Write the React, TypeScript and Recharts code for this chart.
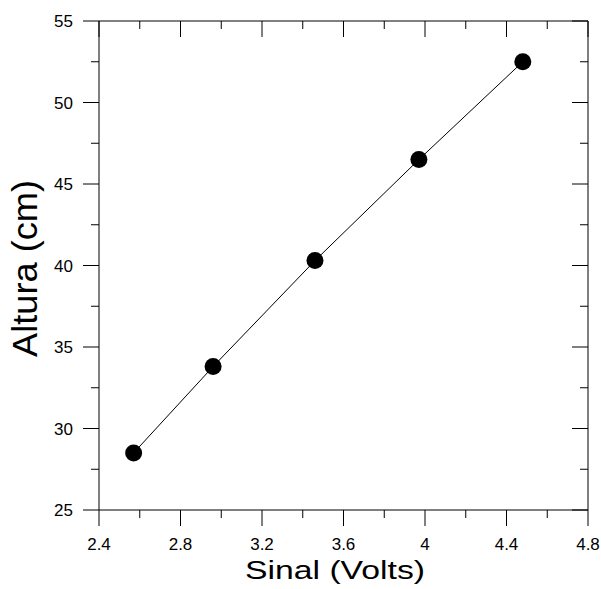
import { ScatterChart, Scatter, XAxis, YAxis } from 'recharts';

const FONT = '"Liberation Sans", Arial, sans-serif';

// signal (V) vs height (cm)
const SIGNAL = [2.57, 2.96, 3.46, 3.97, 4.48];
const HEIGHT = [28.5, 33.8, 40.3, 46.5, 52.5];

const X_MAJOR = [2.4, 2.8, 3.2, 3.6, 4.0, 4.4, 4.8];
const X_MINOR = [2.6, 3.0, 3.4, 3.8, 4.2, 4.6];
const Y_MAJOR = [25, 30, 35, 40, 45, 50, 55];
const Y_MINOR = [27.5, 32.5, 37.5, 42.5, 47.5, 52.5];

const X_TICKS = [...X_MAJOR, ...X_MINOR].sort((a, b) => a - b);
const Y_TICKS = [...Y_MAJOR, ...Y_MINOR].sort((a, b) => a - b);

const data = SIGNAL.map((s, i) => ({ signal: s, height: HEIGHT[i] }));

const isMajor = (list: number[], v: number) => list.some(m => Math.abs(m - v) < 1e-6);
const fmt = (v: number) => String(Math.round(v * 10) / 10);

// ─── tick renderers ───────────────────────────────────────────────────────────

function BottomTick({ x, y, payload }: any) {
  const major = isMajor(X_MAJOR, payload.value);
  return (
    <g>
      <line x1={x} x2={x} y1={y} y2={y + (major ? 16 : 8)} stroke="#000" strokeWidth={1} />
      {major && (
        <text x={x} y={y + 40} textAnchor="middle" fontSize={17} fontFamily={FONT} fill="#000">
          {fmt(payload.value)}
        </text>
      )}
    </g>
  );
}

function TopTick({ x, y, payload }: any) {
  const major = isMajor(X_MAJOR, payload.value);
  return <line x1={x} x2={x} y1={y} y2={y + (major ? 16 : 8)} stroke="#000" strokeWidth={1} />;
}

function LeftTick({ x, y, payload }: any) {
  const major = isMajor(Y_MAJOR, payload.value);
  return (
    <g>
      <line x1={x - (major ? 16 : 8)} x2={x} y1={y} y2={y} stroke="#000" strokeWidth={1} />
      {major && (
        <text x={x - 26} y={y + 6} textAnchor="end" fontSize={17} fontFamily={FONT} fill="#000">
          {fmt(payload.value)}
        </text>
      )}
    </g>
  );
}

function RightTick({ x, y, payload }: any) {
  const major = isMajor(Y_MAJOR, payload.value);
  return <line x1={x - (major ? 16 : 8)} x2={x} y1={y} y2={y} stroke="#000" strokeWidth={1} />;
}

const Dot = (p: any) => <circle cx={p.cx} cy={p.cy} r={8.5} fill="#000" />;
const NoDot = () => <g />;

// ─── chart ────────────────────────────────────────────────────────────────────

export default function App() {
  return (
    <div style={{ position: 'absolute', left: 0, top: 0, background: '#fff' }}>
      <ScatterChart width={601} height={589} margin={{ top: 20, right: 12, bottom: 0, left: 0 }}>
        <XAxis
          xAxisId="main"
          dataKey="signal"
          type="number"
          domain={[2.4, 4.8]}
          ticks={X_TICKS}
          interval={0}
          height={79}
          tickSize={0}
          tickMargin={0}
          tickLine={false}
          axisLine={{ stroke: '#000' }}
          tick={<BottomTick />}
          label={{
            value: 'Sinal (Volts)',
            content: () => (
              <text x={335} y={579} textAnchor="middle" fontSize={25} fontFamily={FONT} fill="#000"
                textLength={180} lengthAdjust="spacingAndGlyphs">
                Sinal (Volts)
              </text>
            ),
          }}
        />
        <XAxis
          xAxisId="top"
          orientation="top"
          dataKey="signal"
          type="number"
          domain={[2.4, 4.8]}
          ticks={X_TICKS}
          interval={0}
          height={1}
          tickSize={0}
          tickMargin={0}
          tickLine={false}
          axisLine={{ stroke: '#000' }}
          tick={<TopTick />}
        />
        <YAxis
          yAxisId="main"
          dataKey="height"
          type="number"
          domain={[25, 55]}
          ticks={Y_TICKS}
          interval={0}
          width={99}
          tickSize={0}
          tickMargin={0}
          tickLine={false}
          axisLine={{ stroke: '#000' }}
          tick={<LeftTick />}
          label={{
            value: 'Altura (cm)',
            content: () => (
              <text x={0} y={0} transform="translate(37,268.5) rotate(-90)" textAnchor="middle"
                fontSize={35} fontFamily={FONT} fill="#000" textLength={177} lengthAdjust="spacingAndGlyphs">
                Altura (cm)
              </text>
            ),
          }}
        />
        <YAxis
          yAxisId="right"
          orientation="right"
          dataKey="height"
          type="number"
          domain={[25, 55]}
          ticks={Y_TICKS}
          interval={0}
          width={1}
          tickSize={0}
          tickMargin={0}
          tickLine={false}
          axisLine={{ stroke: '#000' }}
          tick={<RightTick />}
        />
        <Scatter
          data={data}
          xAxisId="top"
          yAxisId="right"
          shape={NoDot}
          isAnimationActive={false}
        />
        <Scatter
          data={data}
          xAxisId="main"
          yAxisId="main"
          fill="#000"
          line={{ stroke: '#000', strokeWidth: 1 }}
          lineType="joint"
          shape={Dot}
          isAnimationActive={false}
        />
      </ScatterChart>
    </div>
  );
}
